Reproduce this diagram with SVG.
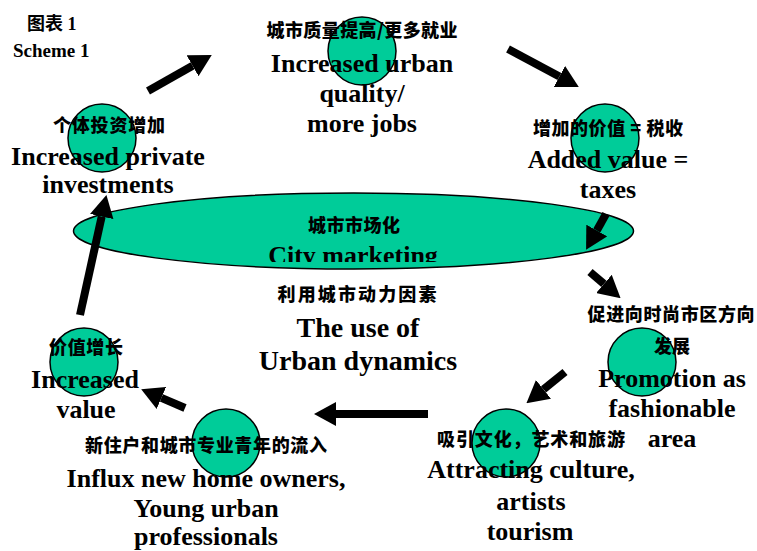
<svg xmlns="http://www.w3.org/2000/svg" width="757" height="551" viewBox="0 0 757 551">
<style>
.bg{fill:#ffffff}
.node{fill:#00CC99;stroke:#000000;stroke-width:1.5}
.cn{font-family:"Noto Sans CJK SC","Noto Sans",sans-serif;font-weight:900;font-size:18px;fill:#000;text-anchor:middle}
.en{font-family:"Liberation Serif","Times New Roman",serif;font-weight:bold;font-size:26px;fill:#000;text-anchor:middle}
.big{font-size:28px}
.title{font-family:"Liberation Serif","Noto Sans CJK SC",serif;font-weight:bold;fill:#000}
.arrow{stroke:#000;stroke-width:8;fill:none;marker-end:url(#head)}
</style>
<defs>
<marker id="head" markerUnits="userSpaceOnUse" markerWidth="22" markerHeight="24" refX="0" refY="12" orient="auto" viewBox="0 0 22 24">
<path d="M0,0 L22,12 L0,24 Z" fill="#000"/>
</marker>
<clipPath id="cmclip"><rect x="200" y="230" width="320" height="32"/></clipPath>
</defs>
<rect class="bg" x="0" y="0" width="757" height="551"/>

<g id="title">
<text class="title" x="27" y="30" font-size="18">图表 1</text>
<text class="title" x="13" y="57" font-size="19">Scheme 1</text>
</g>

<g id="node-private-investments">
<circle class="node" cx="102" cy="138" r="34"/>
<text class="cn" x="109" y="132" textLength="112" lengthAdjust="spacing">个体投资增加</text>
<text class="en" x="108" y="165">Increased private</text>
<text class="en" x="108" y="193">investments</text>
</g>

<g id="node-urban-quality">
<circle class="node" cx="362" cy="51" r="34"/>
<text class="cn" x="362" y="37" textLength="191" lengthAdjust="spacing">城市质量提高/更多就业</text>
<text class="en" x="362" y="72">Increased urban</text>
<text class="en" x="362" y="102">quality/</text>
<text class="en" x="362" y="132">more jobs</text>
</g>

<g id="node-added-value">
<circle class="node" cx="605" cy="138" r="34"/>
<text class="cn" x="608" y="135" textLength="150" lengthAdjust="spacing">增加的价值 = 税收</text>
<text class="en" x="608" y="168">Added value =</text>
<text class="en" x="608" y="198">taxes</text>
</g>

<g id="node-city-marketing">
<ellipse class="node" cx="353.5" cy="231" rx="280" ry="38"/>
<text class="cn" x="354" y="232" textLength="92" lengthAdjust="spacing">城市市场化</text>
<text class="en" x="353" y="264" clip-path="url(#cmclip)">City marketing</text>
<text class="cn" x="357" y="301" textLength="159" lengthAdjust="spacing">利用城市动力因素</text>
<text class="en big" x="358" y="337">The use of</text>
<text class="en big" x="358" y="370">Urban dynamics</text>
</g>

<g id="node-fashionable-area">
<circle class="node" cx="642" cy="362" r="34"/>
<text class="cn" x="671" y="321" textLength="167" lengthAdjust="spacing">促进向时尚市区方向</text>
<text class="cn" x="672" y="353">发展</text>
<text class="en" x="672" y="387">Promotion as</text>
<text class="en" x="672" y="417">fashionable</text>
<text class="en" x="672" y="447">area</text>
</g>

<g id="node-attracting-culture">
<circle class="node" cx="506" cy="443" r="34"/>
<text class="cn" x="531" y="446" textLength="188" lengthAdjust="spacing">吸引文化，艺术和旅游</text>
<text class="en" x="531" y="478">Attracting culture,</text>
<text class="en" x="531" y="510">artists</text>
<text class="en" x="530" y="540">tourism</text>
</g>

<g id="node-influx">
<circle class="node" cx="226" cy="443" r="34"/>
<text class="cn" x="206" y="452" textLength="242" lengthAdjust="spacing">新住户和城市专业青年的流入</text>
<text class="en" x="206" y="487">Influx new home owners,</text>
<text class="en" x="206" y="517">Young urban</text>
<text class="en" x="206" y="545">professionals</text>
</g>

<g id="node-increased-value">
<circle class="node" cx="84" cy="362" r="34"/>
<text class="cn" x="86" y="354" textLength="74" lengthAdjust="spacing">价值增长</text>
<text class="en" x="85" y="388">Increased</text>
<text class="en" x="86" y="418">value</text>
</g>

<g id="connectors">
<line class="arrow" x1="148" y1="91" x2="192.6" y2="65.8"/>
<line class="arrow" x1="508" y1="49" x2="559.4" y2="76.5"/>
<line class="arrow" x1="606" y1="214" x2="596.8" y2="230.5"/>
<line class="arrow" x1="590" y1="272" x2="603.9" y2="283.9"/>
<line class="arrow" x1="565" y1="372" x2="543.5" y2="389.4"/>
<line class="arrow" x1="428" y1="414" x2="336" y2="414"/>
<line class="arrow" x1="185" y1="408" x2="161.4" y2="397.9"/>
<line class="arrow" x1="80" y1="315" x2="101.7" y2="216.5"/>
</g>
</svg>
